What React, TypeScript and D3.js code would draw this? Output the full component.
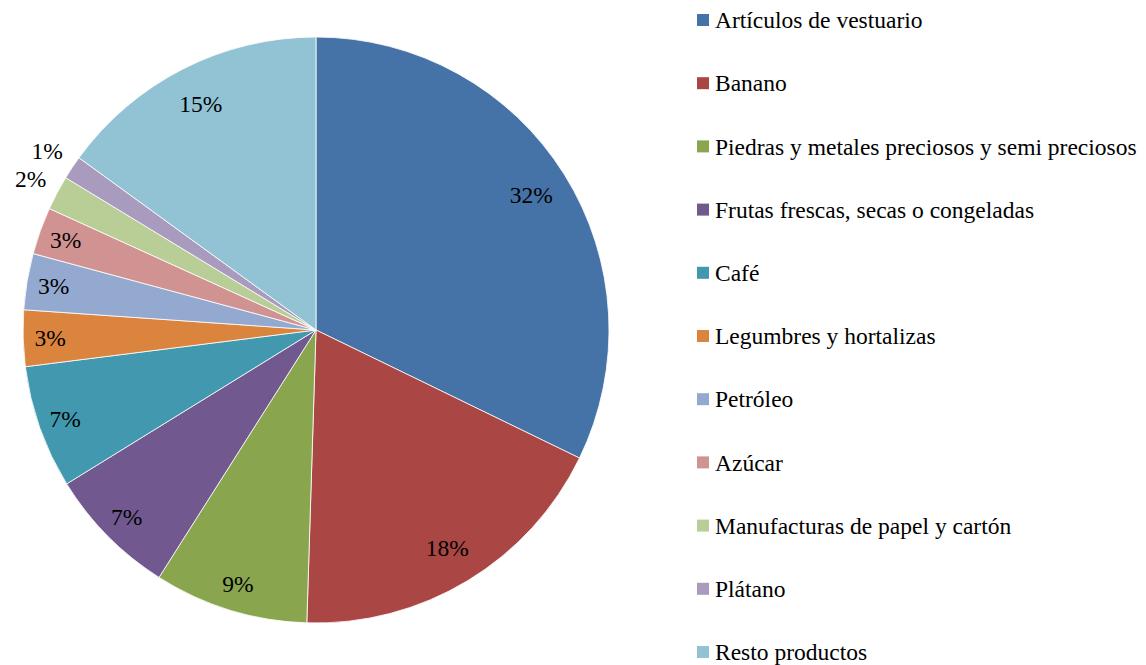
import React from "react";
import * as d3 from "d3";

const categories = [
  "Artículos de vestuario",
  "Banano",
  "Piedras y metales preciosos y semi preciosos",
  "Frutas frescas, secas o congeladas",
  "Café",
  "Legumbres y hortalizas",
  "Petróleo",
  "Azúcar",
  "Manufacturas de papel y cartón",
  "Plátano",
  "Resto productos",
];
const values = [32.2, 18.3, 8.5, 7.2, 6.8, 3.1, 3.1, 2.6, 1.9, 1.3, 15.0];
const colors = [
  "#4572A7", "#AA4643", "#89A54E", "#71588F", "#4198AF", "#DB843D",
  "#93A9CF", "#D19392", "#B9CD96", "#A99BBD", "#92C3D4",
];

const W = 1146, H = 665;
const cx = 316, cy = 330, R = 293;
const fontStyle = { fontFamily: '"Liberation Serif", serif' };

export default function App() {
  const pie = d3.pie<number>().sort(null).value((d) => d)(values);
  const arc = d3.arc<d3.PieArcDatum<number>>().innerRadius(0).outerRadius(R);
  const legendY = d3.scalePoint<number>().domain(d3.range(categories.length)).range([20, 652]);

  const labelR = (v: number) => (v < 2.5 ? 323 : v >= 15 ? 254 : 266);

  return (
    <svg width={W} height={H} style={{ position: "absolute", left: 0, top: 0, background: "#fff" }}>
      <g transform={`translate(${cx},${cy})`}>
        {pie.map((p, i) => (
          <path key={i} d={arc(p) || ""} fill={colors[i]} stroke="#fff" strokeWidth={0.8} />
        ))}
        {pie.map((p, i) => {
          const a = (p.startAngle + p.endAngle) / 2;
          const r = labelR(p.value);
          const x = Math.sin(a) * r;
          const y = -Math.cos(a) * r;
          return (
            <text key={i} x={x} y={y} dy="0.35em" textAnchor="middle" style={fontStyle} fontSize={23.5} fill="#000">
              {Math.round(p.value)}%
            </text>
          );
        })}
      </g>
      <g>
        {categories.map((c, i) => (
          <g key={i} transform={`translate(697,${legendY(i)})`}>
            <rect x={0} y={-6} width={12} height={12} fill={colors[i]} />
            <text x={18} y={0} dy="0.35em" style={fontStyle} fontSize={23.5} fill="#000">{c}</text>
          </g>
        ))}
      </g>
    </svg>
  );
}
